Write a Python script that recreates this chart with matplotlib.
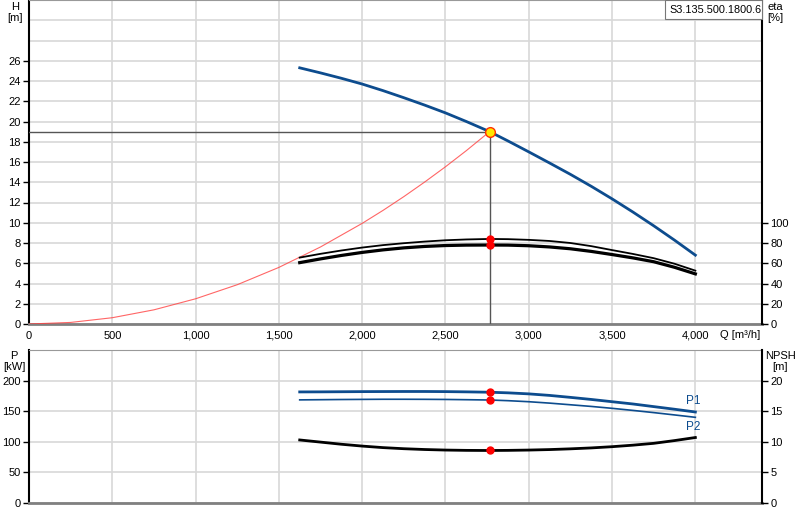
import numpy as np
import matplotlib
matplotlib.use('Agg')
import matplotlib.pyplot as plt
from matplotlib.patches import Rectangle

plt.rcParams['font.family'] = ['Liberation Sans', 'DejaVu Sans']
plt.rcParams['font.size'] = 8

# pump data
q_pump = [1625, 1750, 1875, 2000, 2125, 2250, 2375, 2500, 2625, 2765,
	2875, 3000, 3125, 3250, 3375, 3500, 3625, 3750, 3875, 4000]
head = [25.3, 24.8, 24.27, 23.7, 23.05, 22.35, 21.62, 20.85, 20.0, 19.0,
	18.08, 17.0, 15.9, 14.78, 13.6, 12.36, 11.06, 9.7, 8.28, 6.8]
eta1 = [65.6, 69.3, 72.6, 75.5, 77.9, 79.8, 81.4, 82.7, 83.5, 84.0,
	83.8, 83.1, 82.0, 80.0, 76.9, 73.0, 69.2, 65.0, 59.5, 52.7]
eta2 = [60.6, 64.3, 67.7, 70.7, 73.2, 75.2, 76.6, 77.5, 77.9, 78.0,
	77.9, 77.3, 76.1, 74.3, 71.7, 68.6, 65.3, 61.5, 56.0, 49.5]
p1 = [181.5, 181.6, 181.8, 182.0, 182.1, 182.2, 182.2, 182.0, 181.6, 181.0,
	180.0, 178.3, 175.8, 172.6, 169.2, 165.5, 161.8, 157.5, 153.2, 148.7]
p2 = [168.5, 168.8, 169.1, 169.3, 169.5, 169.5, 169.4, 169.2, 168.8, 168.3,
	167.2, 165.5, 163.2, 160.5, 157.8, 154.7, 151.3, 147.7, 143.9, 140.0]
npsh = [10.3, 9.95, 9.6, 9.3, 9.05, 8.87, 8.74, 8.65, 8.6, 8.58,
	8.6, 8.65, 8.73, 8.85, 9.0, 9.2, 9.45, 9.75, 10.2, 10.7]

q_sys = [0, 250, 500, 750, 1000, 1250, 1500, 1750, 2000, 2125, 2250, 2375, 2500, 2625, 2765]
h_sys = [0, 0.155, 0.62, 1.4, 2.49, 3.88, 5.59, 7.61, 9.94, 11.22, 12.58, 14.02, 15.53, 17.12, 19.0]

duty_q = 2765
duty_h = 19.0
duty_eta = [84.0, 78.0]
duty_p = [181.0, 168.3]
duty_npsh = 8.6

BLUE = '#0d4c8e'
GRID = '#d8d8d8'

fig = plt.figure(figsize=(8, 5.2), dpi=100)
ax = fig.add_axes([29/800, 1-324/520, 733/800, 324/520])
ax2 = ax.twinx()
bx = fig.add_axes([29/800, 1-503/520, 733/800, 153/520])
bx2 = bx.twinx()

def style(a, a2):
	a.set_xlim(0, 4400)
	a.set_xticks(np.arange(0, 4001, 500))
	a.grid(True, color=GRID, lw=1.2)
	a.set_axisbelow(True)
	a.spines['left'].set_color('black')
	a.spines['left'].set_linewidth(1.5)
	a.spines['bottom'].set_color('#808080')
	a.spines['bottom'].set_linewidth(2)
	a.spines['top'].set_color('#999999')
	a.spines['right'].set_visible(False)
	a2.spines['right'].set_color('black')
	a2.spines['right'].set_linewidth(1.5)
	for s in ['left', 'top', 'bottom']:
		a2.spines[s].set_visible(False)
	a.tick_params(axis='y', length=4, width=1, pad=2)
	a2.tick_params(axis='y', length=4, width=1, pad=2)
	a.tick_params(axis='x', length=0, pad=5)

style(ax, ax2)
style(bx, bx2)

# top: head / efficiency
ax.set_ylim(0, 32)
ax.set_yticks(np.arange(0, 27, 2))
ax.set_yticks([28, 30], minor=True)
ax.tick_params(axis='y', which='minor', length=0)
ax.grid(True, which='minor', axis='y', color=GRID, lw=1.2)
ax.set_xticklabels(['{:,}'.format(v) for v in range(0, 4001, 500)])
ax2.set_ylim(0, 320)
ax2.set_yticks(np.arange(0, 101, 20))

ax.plot(q_sys, h_sys, color='#ff4040', lw=0.8, alpha=0.8, zorder=3)
ax.plot([0, duty_q], [duty_h, duty_h], color='#555555', lw=1, zorder=3)
ax.plot([duty_q, duty_q], [0, duty_h], color='#555555', lw=1, zorder=3)
ax.plot(q_pump, head, color=BLUE, lw=2, zorder=4)
ax2.plot(q_pump, eta1, color='black', lw=1.3, zorder=4)
ax2.plot(q_pump, eta2, color='black', lw=2.3, zorder=4)
ax2.plot([duty_q]*2, duty_eta, 'o', color='red', ms=5, zorder=5)
ax2.plot([duty_q], [duty_h*10], 'o', mfc='#ffe600', mec='#ff3000', ms=7, zorder=6)

# bottom: power / npsh
bx.set_ylim(0, 250)
bx.set_yticks(np.arange(0, 201, 50))
bx.set_xticklabels([])
bx2.set_ylim(0, 25)
bx2.set_yticks(np.arange(0, 21, 5))

bx.plot(q_pump, p1, color=BLUE, lw=2, zorder=4)
bx.plot(q_pump, p2, color=BLUE, lw=1.2, zorder=4)
bx2.plot(q_pump, npsh, color='black', lw=2, zorder=4)
bx.plot([duty_q]*2, duty_p, 'o', color='red', ms=5, zorder=5)
bx2.plot([duty_q], [duty_npsh], 'o', color='red', ms=5, zorder=5)
bx.text(q_pump[-1] - 55, p1[-1] + 8, 'P1', color=BLUE, ha='left', va='bottom', fontsize=8.5)
bx.text(q_pump[-1] - 55, p2[-1] - 6, 'P2', color=BLUE, ha='left', va='top', fontsize=8.5)

# axis captions
fig.text(15/800, 1-2/520, 'H\n[m]', ha='center', va='top', fontsize=8, linespacing=1.1)
fig.text(775/800, 1-2/520, 'eta\n[%]', ha='center', va='top', fontsize=8, linespacing=1.1)
fig.text(720/800, 1-335/520, 'Q [m³/h]', ha='left', va='center', fontsize=8)
fig.text(14/800, 1-351/520, 'P\n[kW]', ha='center', va='top', fontsize=8, linespacing=1.1)
fig.text(780/800, 1-351/520, 'NPSH\n[m]', ha='center', va='top', fontsize=8, linespacing=1.1)

# curve name box, top right
box = Rectangle((665/800, 1-19/520), 97/800, 19/520, transform=fig.transFigure,
	fc='white', ec='#777777', lw=0.8, zorder=10)
fig.patches.append(box)
label = fig.text(669/800, 1-10/520, 'S3.135.500.1800.6.', ha='left', va='center',
	fontsize=7.8, zorder=11)
label.set_clip_path(box)

fig.savefig('out.png', dpi=100)
